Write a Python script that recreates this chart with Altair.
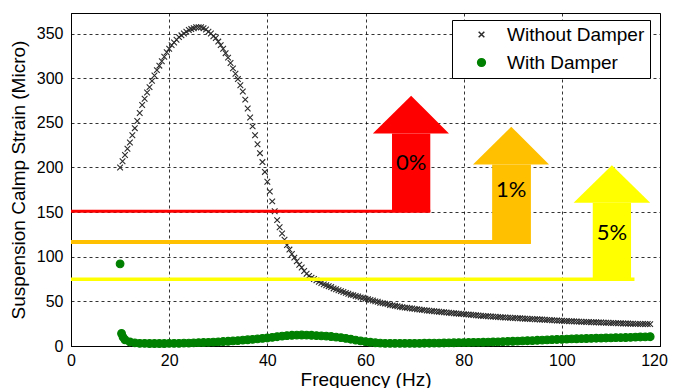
import altair as alt
import pandas as pd

# ---------------- data ----------------
series_names = ["Without Damper", "With Damper"]

# "Without Damper": sampled every 0.5 Hz from 10 Hz to 118 Hz
without_start = 10.0
without_step = 0.5
without_damper = [
    200, 207, 214, 221, 228, 236, 244, 252, 261, 270,          # 10.0 - 14.5
    277, 284, 290, 297, 303, 309, 314, 319, 324, 329,          # 15.0 - 19.5
    333, 337, 340, 343, 346, 348, 350, 352, 354, 355,          # 20.0 - 24.5
    356, 357, 357, 357, 356, 354.5, 352, 350, 347, 345,        # 25.0 - 29.5
    341, 337, 333, 328, 323, 317, 311, 305, 299, 292,          # 30.0 - 34.5
    285, 276, 266, 256, 246, 236, 226, 216, 206, 195,          # 35.0 - 39.5
    184, 173, 162, 151, 141, 133, 126, 119, 113, 108,          # 40.0 - 44.5
    103, 99, 95, 91, 88, 84, 81, 78.5, 76.5, 75,               # 45.0 - 49.5
    73.5, 72, 70.5, 69, 68, 67, 66, 64.5, 63.5, 62.5,          # 50.0 - 54.5
    61.5, 60.5, 59.5, 58.5, 57.5, 57, 56, 55.5, 54.5, 54,      # 55.0 - 59.5
    53, 52.5, 51.5, 51, 50, 49.5, 48.5, 48, 47.5, 47,          # 60.0 - 64.5
    46, 45.5, 45, 44.5, 44, 43.5, 43, 42.8, 42.3, 42,          # 65.0 - 69.5
    41.6, 41.2, 40.8, 40.5, 40.2, 39.8, 39.5, 39.2, 38.9, 38.6,  # 70.0 - 74.5
    38.3, 38, 37.8, 37.5, 37.3, 37, 36.7, 36.5, 36.2, 36,      # 75.0 - 79.5
    35.7, 35.4, 35.2, 35, 34.7, 34.4, 34.1, 33.9, 33.7, 33.5,  # 80.0 - 84.5
    33.3, 33.1, 32.9, 32.7, 32.5, 32.3, 32.1, 31.9, 31.8, 31.6,  # 85.0 - 89.5
    31.4, 31.3, 31.1, 31, 30.8, 30.6, 30.5, 30.3, 30.2, 30,    # 90.0 - 94.5
    29.9, 29.7, 29.6, 29.4, 29.3, 29.1, 28.9, 28.7, 28.6, 28.4,  # 95.0 - 99.5
    28.2, 28.1, 28, 27.8, 27.7, 27.6, 27.4, 27.3, 27.2, 27,    # 100.0 - 104.5
    26.9, 26.8, 26.7, 26.6, 26.5, 26.4, 26.3, 26.2, 26.1, 26,  # 105.0 - 109.5
    25.8, 25.7, 25.6, 25.5, 25.4, 25.3, 25.2, 25.1, 25, 24.9,  # 110.0 - 114.5
    24.8, 24.8, 24.7, 24.7, 24.6, 24.6, 24.5,                  # 115.0 - 118.0
]
without_freq = [without_start + without_step * i for i in range(len(without_damper))]

# "With Damper"
with_freq = [10.0, 10.3, 10.6] + list(range(11, 119))
with_damper = [
    92, 14, 10,
    7, 4.5, 3.5, 3, 3, 2.8, 2.8, 2.8, 2.8, 3,                  # 11 - 20
    3, 3, 3.2, 3.3, 3.5, 3.7, 3.9, 4.1, 4.3, 4.6,              # 21 - 30
    5, 5.3, 5.7, 6.1, 6.5, 7, 7.5, 8, 8.5, 9,                  # 31 - 40
    9.7, 10.4, 11, 11.6, 12, 12.2, 12.3, 12.2, 12, 11.7,       # 41 - 50
    11.4, 11.1, 10.6, 10, 9.3, 8.5, 7.6, 6.6, 5.7, 4.9,        # 51 - 60
    4.2, 3.6, 3.2, 3, 3, 3, 3, 3, 3, 3,                        # 61 - 70
    3, 3.1, 3.1, 3.2, 3.3, 3.4, 3.5, 3.6, 3.7, 3.8,            # 71 - 80
    3.9, 4, 4.1, 4.2, 4.3, 4.5, 4.7, 4.9, 5.1, 5.3,            # 81 - 90
    5.5, 5.7, 5.9, 6.1, 6.4, 6.6, 6.8, 7.1, 7.3, 7.5,          # 91 - 100
    7.7, 7.9, 8.1, 8.3, 8.4, 8.6, 8.7, 8.8, 9, 9.1,            # 101 - 110
    9.3, 9.4, 9.5, 9.7, 9.9, 10.1, 10.3, 10.4,                 # 111 - 118
]

# threshold annotations (levels and arrows, in data units)
thr_labels = ["0%", "1%", "5%"]
thr_level = [151, 116.4, 74.7]
thr_line_end = [73.2, 93.7, 114.8]
shaft_left = [65.4, 85.8, 106.3]
shaft_right = [73.2, 93.7, 114.1]
shaft_bottom = [149.7, 115.0, 72.8]
head_base = [238.1, 203.4, 160.4]
head_left = [61.5, 81.9, 102.4]
head_right = [77.0, 97.4, 118.0]
tip_x = [69.3, 89.7, 110.2]
tip_y = [280.2, 245.5, 202.6]
label_y = [204.5, 174.6, 126.1]

x_ticks = [0, 20, 40, 60, 80, 100, 120]
y_ticks = [0, 50, 100, 150, 200, 250, 300, 350]

# ---------------- styles ----------------
thr_colors = ["#FF0000", "#FFC000", "#FFFF00"]
thr_widths = [3, 4, 3.5]
XPATH = "M-1,-1L1,1M-1,1L1,-1"
FONT = "Liberation Sans"

pts = pd.DataFrame({
    "freq": without_freq + with_freq,
    "strain": without_damper + with_damper,
    "series": [series_names[0]] * len(without_damper) + [series_names[1]] * len(with_damper),
})

leg = alt.Legend(
    title=None, orient="none", legendX=381, legendY=7,
    fillColor="white", strokeColor="black", padding=5, rowPadding=8,
    symbolOffset=15, labelOffset=16, labelFont=FONT, labelFontSize=19,
    labelColor="black", cornerRadius=0,
)

xs = alt.Scale(domain=[0, 120], nice=False, zero=False)
ys = alt.Scale(domain=[0, 373], nice=False)

points = alt.Chart(pts).mark_point(strokeWidth=1.1, opacity=1).encode(
    x=alt.X("freq:Q", scale=xs, axis=alt.Axis(
        values=x_ticks, title="Frequency (Hz)",
        labelOffset={"expr": "datum.value == 120 ? -6 : 0"})),
    y=alt.Y("strain:Q", scale=ys, axis=alt.Axis(values=y_ticks, title="Suspension Calmp Strain (Micro)")),
    shape=alt.Shape("series:N", scale=alt.Scale(domain=series_names, range=[XPATH, "circle"]), legend=leg),
    fill=alt.Fill("series:N", scale=alt.Scale(domain=series_names, range=["transparent", "#008000"]), legend=leg),
    stroke=alt.Stroke("series:N", scale=alt.Scale(domain=series_names, range=["#2a2a2a", "#008000"]), legend=leg),
    size=alt.Size("series:N", scale=alt.Scale(domain=series_names, range=[32, 60]), legend=leg),
)

layers = [points]
for i in range(3):
    line_df = pd.DataFrame({"x0": [0], "x1": [thr_line_end[i]], "y": [thr_level[i]]})
    layers.append(alt.Chart(line_df).mark_rule(color=thr_colors[i], strokeWidth=thr_widths[i]).encode(
        x=alt.X("x0:Q", scale=xs), x2="x1:Q", y=alt.Y("y:Q", scale=ys)))
    shaft_df = pd.DataFrame({"x0": [shaft_left[i]], "x1": [shaft_right[i]],
                             "y0": [shaft_bottom[i]], "y1": [head_base[i]]})
    layers.append(alt.Chart(shaft_df).mark_rect(color=thr_colors[i]).encode(
        x=alt.X("x0:Q", scale=xs), x2="x1:Q", y=alt.Y("y0:Q", scale=ys), y2="y1:Q"))
    head_df = pd.DataFrame({"x": [head_left[i], tip_x[i], head_right[i]],
                            "top": [head_base[i], tip_y[i], head_base[i]],
                            "base": [head_base[i]] * 3})
    layers.append(alt.Chart(head_df).mark_area(color=thr_colors[i], opacity=1).encode(
        x=alt.X("x:Q", scale=xs), y=alt.Y("top:Q", scale=ys), y2="base:Q"))

txt_df = pd.DataFrame({"x": tip_x, "y": label_y, "t": thr_labels})
layers.append(alt.Chart(txt_df).mark_text(font="Lato", fontSize=22, color="black").encode(
    x=alt.X("x:Q", scale=xs), y=alt.Y("y:Q", scale=ys), text="t:N"))

chart = alt.layer(*layers).properties(
    width=589, height=333,
    padding={"left": 63, "top": 5, "right": 8, "bottom": 42},
    autosize=alt.AutoSizeParams(type="none"),
).configure_view(
    stroke="#000000", strokeWidth=1,
).configure_axis(
    labelFont=FONT, labelFontSize=16, labelColor="black",
    titleFont=FONT, titleFontSize=19, titleFontWeight="normal", titleColor="black",
    domainColor="black", domainWidth=1,
    grid=True, gridDash=[3, 3], gridColor="#000000", gridOpacity=0.8, gridWidth=1,
    ticks=False, labelPadding=8, labelFlush=False,
).configure_axisX(
    labelPadding=6, titlePadding=2,
).configure_axisY(
    titlePadding=8,
)

chart.save("out.html", embed_options={"renderer": "svg", "actions": False})
